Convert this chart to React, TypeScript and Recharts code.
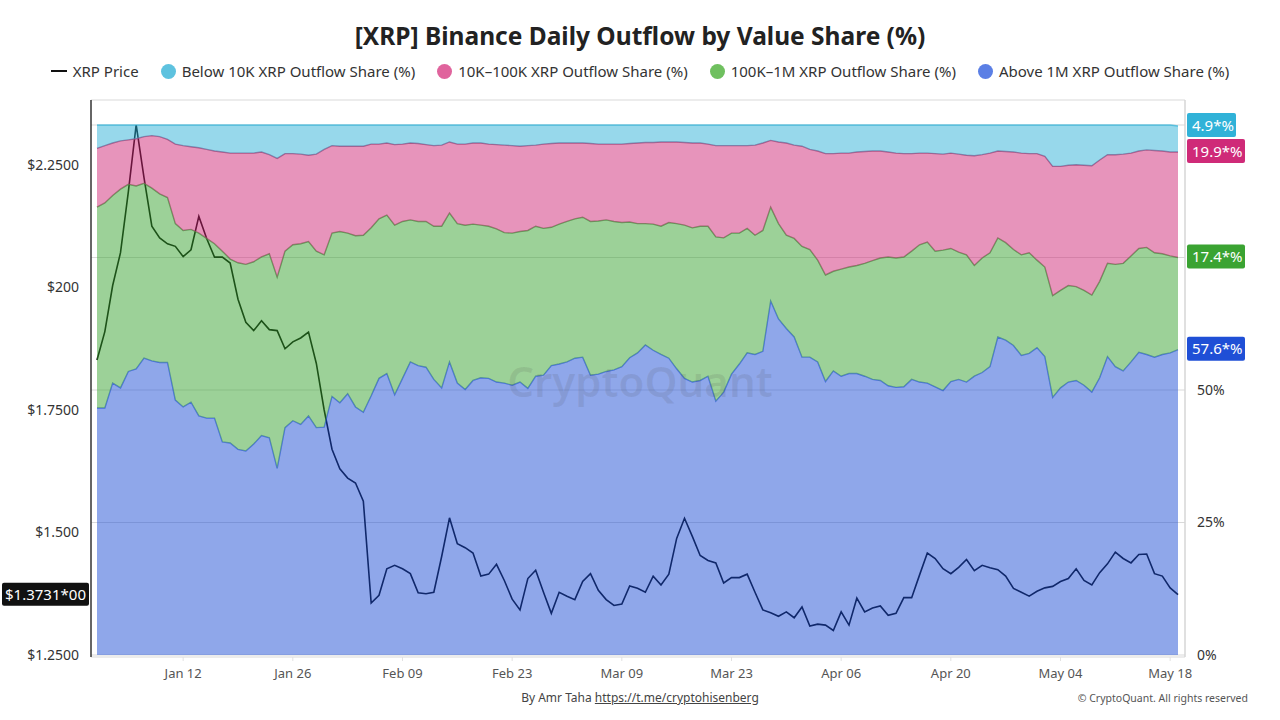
import {
  ComposedChart,
  Area,
  Line,
  XAxis,
  YAxis,
  CartesianGrid,
  ReferenceLine,
} from "recharts";

// daily values, Jan 01 -> May 19
const xrpPrice = [
  1.852, 1.91, 2.004, 2.071, 2.195, 2.332, 2.224, 2.125, 2.101, 2.089,
  2.084, 2.063, 2.077, 2.145, 2.1, 2.062, 2.062, 2.05, 1.976, 1.929,
  1.912, 1.932, 1.914, 1.912, 1.875, 1.889, 1.897, 1.909, 1.845, 1.75,
  1.67, 1.63, 1.611, 1.601, 1.564, 1.356, 1.372, 1.426, 1.433, 1.426,
  1.416, 1.377, 1.375, 1.378, 1.451, 1.53, 1.477, 1.469, 1.458, 1.411,
  1.415, 1.435, 1.402, 1.364, 1.342, 1.406, 1.423, 1.378, 1.335, 1.378,
  1.37, 1.363, 1.4, 1.416, 1.382, 1.363, 1.351, 1.354, 1.391, 1.386,
  1.378, 1.411, 1.393, 1.415, 1.488, 1.529, 1.492, 1.453, 1.443, 1.438,
  1.397, 1.408, 1.408, 1.415, 1.378, 1.342, 1.336, 1.329, 1.338, 1.326,
  1.348, 1.309, 1.313, 1.311, 1.3, 1.338, 1.311, 1.366, 1.338, 1.346,
  1.35, 1.331, 1.335, 1.367, 1.367, 1.413, 1.458, 1.447, 1.426, 1.416,
  1.429, 1.445, 1.422, 1.433, 1.428, 1.424, 1.411, 1.386, 1.378, 1.37,
  1.38, 1.387, 1.39, 1.4, 1.406, 1.426, 1.402, 1.393, 1.418, 1.436,
  1.46, 1.447, 1.438, 1.455, 1.456, 1.416, 1.411, 1.387, 1.3731,
];

const above1M = [
  46.6, 46.6, 51.3, 50.4, 53.5, 54.0, 56.0, 55.5, 55.2, 55.2,
  48.1, 46.8, 47.7, 45.1, 44.7, 44.7, 40.2, 40.0, 38.8, 38.5,
  39.8, 41.4, 41.0, 35.2, 42.9, 44.2, 43.5, 45.1, 42.9, 43.0,
  48.8, 47.6, 49.3, 46.8, 45.8, 48.9, 52.2, 53.1, 49.1, 52.2,
  55.3, 54.6, 54.3, 52.0, 50.4, 55.3, 51.3, 50.1, 51.8, 52.3,
  52.2, 51.5, 51.3, 50.9, 51.5, 50.3, 52.6, 52.8, 54.6, 54.9,
  55.3, 56.0, 56.2, 52.8, 53.0, 53.5, 53.8, 54.4, 56.1, 57.0,
  58.5, 57.5, 56.7, 56.0, 54.0, 52.2, 51.5, 51.8, 52.6, 47.9,
  49.6, 53.0, 54.9, 57.0, 56.7, 57.3, 66.8, 63.4, 61.6, 60.0,
  56.2, 56.2, 55.3, 51.6, 53.6, 52.6, 53.1, 53.1, 52.6, 52.0,
  51.8, 50.8, 50.5, 50.6, 52.0, 51.5, 51.3, 50.6, 49.9, 51.6,
  52.0, 51.5, 52.6, 53.3, 54.4, 60.0, 59.4, 58.4, 56.5, 56.9,
  58.0, 56.3, 48.6, 50.4, 51.5, 51.8, 50.9, 49.6, 52.3, 56.3,
  54.4, 53.6, 55.3, 57.1, 56.7, 56.2, 56.7, 57.0, 57.6,
];

const share100Kto1M = [
  37.9, 38.7, 35.4, 37.5, 35.3, 34.5, 33.0, 32.6, 31.8, 31.1,
  33.3, 33.3, 32.6, 34.5, 33.9, 32.9, 36.0, 34.7, 35.2, 35.2,
  34.4, 33.7, 34.7, 36.1, 33.3, 33.2, 34.1, 32.9, 33.3, 32.5,
  30.8, 32.3, 30.3, 32.3, 33.4, 31.7, 30.1, 29.9, 32.0, 29.6,
  26.8, 27.2, 27.5, 28.9, 30.5, 28.1, 30.1, 31.0, 29.5, 28.8,
  28.7, 28.9, 28.4, 28.7, 28.4, 29.8, 28.3, 27.7, 26.1, 26.4,
  26.5, 26.3, 26.4, 29.0, 28.9, 28.6, 28.0, 27.2, 25.6, 24.4,
  22.9, 23.8, 24.2, 25.6, 27.4, 28.9, 29.1, 29.1, 28.3, 31.0,
  29.1, 26.6, 24.7, 23.5, 22.5, 22.8, 17.7, 18.0, 17.6, 18.6,
  20.9, 20.3, 19.2, 20.1, 18.8, 20.2, 20.1, 20.4, 21.3, 22.4,
  23.1, 24.3, 24.4, 24.5, 24.2, 25.9, 26.6, 25.6, 26.5, 25.1,
  24.0, 24.0, 20.9, 21.6, 21.5, 18.7, 18.4, 18.1, 19.0, 19.0,
  16.5, 16.9, 19.2, 18.4, 18.2, 17.7, 17.9, 18.3, 18.2, 17.6,
  19.3, 20.3, 20.0, 19.6, 20.2, 19.7, 19.0, 18.3, 17.4,
];

const share10Kto100K = [
  11.1, 10.8, 9.9, 9.1, 8.4, 8.9, 8.8, 9.9, 10.8, 11.0,
  15.0, 16.0, 15.6, 16.1, 16.8, 17.5, 18.7, 20.0, 20.7, 21.0,
  20.5, 19.8, 18.7, 22.4, 18.4, 17.2, 16.9, 16.3, 18.3, 19.9,
  16.5, 16.1, 16.4, 16.9, 16.8, 15.8, 14.1, 13.6, 15.2, 14.6,
  14.5, 14.7, 14.5, 15.2, 15.3, 13.4, 15.0, 15.3, 15.3, 15.5,
  15.5, 15.9, 16.5, 16.5, 16.1, 16.0, 15.3, 15.9, 15.8, 15.3,
  14.8, 14.3, 14.0, 14.7, 14.5, 14.3, 14.6, 14.8, 14.8, 15.2,
  15.3, 15.4, 15.9, 15.2, 15.4, 15.6, 16.0, 15.7, 15.5, 17.2,
  17.4, 16.5, 16.5, 15.6, 17.0, 16.5, 12.6, 15.4, 17.4, 17.6,
  18.9, 18.9, 20.6, 22.9, 22.2, 21.9, 21.5, 21.4, 21.1, 20.7,
  20.2, 19.8, 19.8, 19.5, 18.4, 17.3, 16.8, 18.4, 18.1, 18.0,
  18.5, 18.8, 20.7, 19.5, 18.8, 16.4, 17.2, 18.4, 19.2, 18.7,
  20.1, 20.9, 24.4, 23.4, 22.7, 23.0, 23.6, 24.4, 22.9, 20.5,
  20.7, 20.6, 19.4, 18.4, 18.4, 19.3, 19.4, 19.6, 19.9,
];

const below10K = [
  4.4, 3.9, 3.4, 3.0, 2.8, 2.6, 2.2, 2.0, 2.2, 2.7,
  3.6, 3.9, 4.1, 4.3, 4.6, 4.9, 5.1, 5.3, 5.3, 5.3,
  5.3, 5.1, 5.6, 6.3, 5.4, 5.4, 5.5, 5.7, 5.5, 4.6,
  3.9, 4.0, 4.0, 4.0, 4.0, 3.6, 3.6, 3.4, 3.7, 3.6,
  3.4, 3.5, 3.7, 3.9, 3.8, 3.2, 3.6, 3.6, 3.4, 3.4,
  3.6, 3.7, 3.8, 3.9, 4.0, 3.9, 3.8, 3.6, 3.5, 3.4,
  3.4, 3.4, 3.4, 3.5, 3.6, 3.6, 3.6, 3.6, 3.5, 3.4,
  3.3, 3.3, 3.2, 3.2, 3.2, 3.3, 3.4, 3.4, 3.6, 3.9,
  3.9, 3.9, 3.9, 3.9, 3.8, 3.4, 2.9, 3.2, 3.4, 3.8,
  4.0, 4.6, 4.9, 5.4, 5.4, 5.3, 5.3, 5.1, 5.0, 4.9,
  4.9, 5.1, 5.3, 5.4, 5.4, 5.3, 5.3, 5.4, 5.5, 5.3,
  5.5, 5.7, 5.8, 5.6, 5.3, 4.9, 5.0, 5.1, 5.3, 5.4,
  5.4, 5.9, 7.8, 7.8, 7.6, 7.5, 7.6, 7.7, 6.6, 5.6,
  5.6, 5.5, 5.3, 4.9, 4.7, 4.8, 4.9, 5.1, 4.9,
];

const dateTicks = [
  "Jan 12", "Jan 26", "Feb 09", "Feb 23", "Mar 09",
  "Mar 23", "Apr 06", "Apr 20", "May 04", "May 18",
];
const priceTicks = [1.25, 1.5, 1.75, 2.0, 2.25];
const priceTickLabels = ["$1.2500", "$1.500", "$1.7500", "$200", "$2.2500"];
const shareTicks = [0, 25, 50, 75, 100];
const shareTickLabels = ["0%", "25%", "50%", "", ""];
const lastPrice = 1.3731;
const lastPriceLabel = "$1.3731*00";

const MONTHS = ["Jan", "Feb", "Mar", "Apr", "May", "Jun"];
const dayLabel = (i: number) => {
  const d = new Date(Date.UTC(2026, 0, 1 + i));
  return MONTHS[d.getUTCMonth()] + " " + String(d.getUTCDate()).padStart(2, "0");
};

const data = xrpPrice.map((p, i) => ({
  date: dayLabel(i),
  price: p,
  above: above1M[i],
  mid: share100Kto1M[i],
  small: share10Kto100K[i],
  tiny: below10K[i],
}));

const BLUE = "#1f4fd6";
const GREEN = "#3aa332";
const PINK = "#cf2a78";
const CYAN = "#30b2d8";
const FONT = "'Noto Sans', 'Open Sans', sans-serif";

const endLabel = (values: number[], color: string) => (props: any) => {
  const { x, y, index } = props;
  if (index !== values.length - 1) return null;
  const text = values[index].toFixed(1) + "*%";
  const w = text.length * 9 + 4;
  return (
    <g>
      <rect x={x + 9} y={y - 13} width={w} height={24} rx={2} fill={color} />
      <text x={x + 14} y={y + 4.5} fill="#fff" fontSize={15} fontFamily={FONT}>
        {text}
      </text>
    </g>
  );
};

const PriceTag = (props: any) => {
  const { viewBox } = props;
  const y = viewBox.y;
  return (
    <g>
      <rect x={2} y={y - 12} width={87} height={23} rx={2} fill="#111" />
      <text x={45.5} y={y + 5} textAnchor="middle" fill="#fff" fontSize={15} fontFamily={FONT}>
        {lastPriceLabel}
      </text>
    </g>
  );
};

const legendItems = [
  { label: "Below 10K XRP Outflow Share (%)", color: "#5ec2df" },
  { label: "10K–100K XRP Outflow Share (%)", color: "#e0649d" },
  { label: "100K–1M XRP Outflow Share (%)", color: "#6fc05f" },
  { label: "Above 1M XRP Outflow Share (%)", color: "#5b7fe5" },
];

export default function App() {
  return (
    <div
      style={{
        position: "absolute",
        left: 0,
        top: 0,
        width: 1280,
        height: 720,
        background: "#fff",
        fontFamily: FONT,
        overflow: "hidden",
      }}
    >
      <div
        style={{
          position: "absolute",
          top: 19,
          width: 1280,
          textAlign: "center",
          fontSize: 24.5,
          fontWeight: 700,
          color: "#222",
        }}
      >
        [XRP] Binance Daily Outflow by Value Share (%)
      </div>
      <div
        style={{
          position: "absolute",
          top: 61,
          width: 1280,
          display: "flex",
          justifyContent: "center",
          alignItems: "center",
          fontSize: 15,
          color: "#333",
          gap: 22,
        }}
      >
        <span style={{ display: "flex", alignItems: "center" }}>
          <span style={{ width: 16, height: 2, background: "#111", marginRight: 6 }} />
          XRP Price
        </span>
        {legendItems.map((it) => (
          <span key={it.label} style={{ display: "flex", alignItems: "center" }}>
            <span
              style={{
                width: 15,
                height: 15,
                borderRadius: "50%",
                background: it.color,
                marginRight: 6,
              }}
            />
            {it.label}
          </span>
        ))}
      </div>

      <div style={{ position: "absolute", left: 0, top: 0 }}>
        <ComposedChart
          width={1280}
          height={720}
          data={data}
          margin={{ top: 100, right: 0, bottom: 33, left: 0 }}
        >
          <CartesianGrid
            yAxisId="share"
            stroke="#d9d9d9"
            strokeWidth={1}
            vertical={false}
          />
          <XAxis
            dataKey="date"
            ticks={dateTicks}
            interval={0}
            padding={{ left: 6, right: 7 }}
            axisLine={false}
            tickLine={{ stroke: "#e2e2e2" }}
            tickSize={4}
            tickMargin={8}
            height={30}
            tick={{ fontSize: 13, fill: "#555", fontFamily: FONT }}
          />
          <YAxis
            yAxisId="price"
            orientation="left"
            width={91}
            domain={[1.25, 2.3316]}
            ticks={priceTicks}
            tickFormatter={(v: number) => priceTickLabels[priceTicks.indexOf(v)]}
            padding={{ top: 25, bottom: 2 }}
            axisLine={{ stroke: "#333", strokeWidth: 1.5 }}
            tickLine={false}
            tickSize={0}
            tickMargin={12}
            allowDataOverflow
            tick={{ fontSize: 14, fill: "#333", fontFamily: FONT }}
          />
          <YAxis
            yAxisId="share"
            orientation="right"
            width={95}
            domain={[0, 100]}
            ticks={shareTicks}
            tickFormatter={(v: number) => shareTickLabels[shareTicks.indexOf(v)]}
            padding={{ top: 25, bottom: 2 }}
            axisLine={{ stroke: "#d6d6d6", strokeWidth: 1.5 }}
            tickLine={false}
            tickSize={0}
            tickMargin={12}
            tick={{ fontSize: 14, fill: "#333", fontFamily: FONT }}
          />
          <Line
            yAxisId="price"
            type="linear"
            dataKey="price"
            stroke="#000"
            strokeWidth={1.6}
            dot={false}
            isAnimationActive={false}
            zIndex={50}
          />
          <Area
            yAxisId="share"
            stackId="s"
            type="linear"
            dataKey="above"
            fill={BLUE}
            fillOpacity={0.5}
            stroke={BLUE}
            strokeOpacity={0.65}
            strokeWidth={1.4}
            isAnimationActive={false}
            label={endLabel(above1M, BLUE)}
            zIndex={100}
          />
          <Area
            yAxisId="share"
            stackId="s"
            type="linear"
            dataKey="mid"
            fill={GREEN}
            fillOpacity={0.5}
            stroke="#4f8a44"
            strokeOpacity={0.8}
            strokeWidth={1.4}
            isAnimationActive={false}
            label={endLabel(share100Kto1M, GREEN)}
            zIndex={100}
          />
          <Area
            yAxisId="share"
            stackId="s"
            type="linear"
            dataKey="small"
            fill={PINK}
            fillOpacity={0.5}
            stroke="#a3497a"
            strokeOpacity={0.85}
            strokeWidth={1.4}
            isAnimationActive={false}
            label={endLabel(share10Kto100K, PINK)}
            zIndex={100}
          />
          <Area
            yAxisId="share"
            stackId="s"
            type="linear"
            dataKey="tiny"
            fill={CYAN}
            fillOpacity={0.5}
            stroke={CYAN}
            strokeOpacity={0.7}
            strokeWidth={1.4}
            isAnimationActive={false}
            label={endLabel(below10K, CYAN)}
            zIndex={100}
          />
          <ReferenceLine
            yAxisId="price"
            y={lastPrice}
            stroke="none"
            strokeOpacity={0}
            label={<PriceTag />}
          />
        </ComposedChart>
      </div>

      <div
        style={{
          position: "absolute",
          left: 480,
          top: 352,
          width: 320,
          textAlign: "center",
          fontSize: 42,
          fontWeight: 600,
          color: "rgba(70,70,70,0.12)",
          pointerEvents: "none",
        }}
      >
        CryptoQuant
      </div>

      <div
        style={{
          position: "absolute",
          top: 689,
          width: 1280,
          textAlign: "center",
          fontSize: 12,
          color: "#444",
        }}
      >
        By Amr Taha <span style={{ textDecoration: "underline" }}>https://t.me/cryptohisenberg</span>
      </div>
      <div
        style={{
          position: "absolute",
          top: 691,
          right: 32,
          fontSize: 10.5,
          color: "#555",
        }}
      >
        © CryptoQuant. All rights reserved
      </div>
    </div>
  );
}
